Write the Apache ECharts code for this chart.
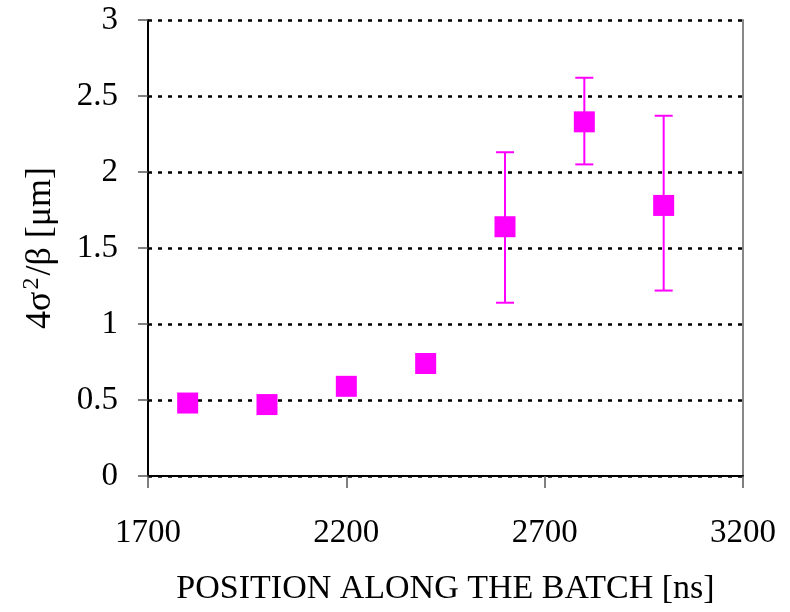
<!DOCTYPE html>
<html>
<head>
<meta charset="utf-8">
<script src="https://cdn.jsdelivr.net/npm/echarts@6/dist/echarts.min.js"></script>
<style>
  html, body { margin: 0; padding: 0; background: #fff; }
  #chart { width: 790px; height: 612px; }
</style>
</head>
<body>
<div id="chart"></div>
<script>
// bunch position along the batch [ns] and measured 4sigma^2/beta [um]
const positions = [1800, 2000, 2200, 2400, 2600, 2800, 3000]
const emittance = [0.48, 0.47, 0.59, 0.74, 1.64, 2.33, 1.78]
// error bars only for the last three bunches
const errLow  = [null, null, null, null, 1.14, 2.05, 1.22]
const errHigh = [null, null, null, null, 2.13, 2.62, 2.37]

const xMin = 1700, xMax = 3200, xStep = 500
const yMin = 0, yMax = 3, yStep = 0.5

const serif = '"Liberation Serif", "Times New Roman", serif'
const pink = '#ff00ff'

const chartDom = document.getElementById('chart')
const myChart = echarts.init(chartDom)

const points = positions.map((x, i) => [x, emittance[i]])
const bars = positions
  .map((x, i) => [x, errLow[i], errHigh[i]])
  .filter(d => d[1] != null)

const option = {
  animation: false,
  grid: { left: 148, right: 47, top: 20, bottom: 136 },
  xAxis: {
    type: 'value',
    min: xMin, max: xMax, interval: xStep,
    name: 'POSITION ALONG THE BATCH [ns]',
    nameLocation: 'middle',
    nameGap: 96,
    nameTextStyle: { fontFamily: serif, fontSize: 34, color: '#000' },
    axisLine: { show: true, onZero: false, lineStyle: { color: '#000', width: 2 } },
    axisTick: { show: true, length: 12, lineStyle: { color: '#555', width: 1.5 } },
    axisLabel: { fontFamily: serif, fontSize: 33, color: '#000', margin: 41, formatter: v => String(v) },
    splitLine: { show: false }
  },
  yAxis: [{
    type: 'value',
    min: yMin, max: yMax, interval: yStep,
    name: '4σ{sup|2}/β [μm]',
    nameLocation: 'middle',
    nameGap: 86,
    nameRotate: 90,
    nameTextStyle: {
      fontFamily: serif, fontSize: 36, color: '#000',
      rich: {
        sup: { fontFamily: serif, fontSize: 24, color: '#000', padding: [0, 2, 18, 2] }
      }
    },
    axisLine: { show: true, lineStyle: { color: '#000', width: 2 } },
    axisTick: { show: true, length: 10, lineStyle: { color: '#555', width: 1.5 } },
    axisLabel: { fontFamily: serif, fontSize: 33, color: '#000', margin: 30 },
    splitLine: { show: true, lineStyle: { color: '#000', width: 2.5, type: [4, 6] } }
  }, {
    type: 'value',
    position: 'right',
    min: yMin, max: yMax, interval: yStep,
    axisLine: { show: true, lineStyle: { color: '#888', width: 2 } },
    axisTick: { show: false },
    axisLabel: { show: false },
    splitLine: { show: false }
  }],
  series: [{
    type: 'custom',
    z: 2,
    data: bars,
    renderItem: (params, api) => {
      const top = api.coord([api.value(0), api.value(2)])
      const bot = api.coord([api.value(0), api.value(1)])
      const half = 9
      const style = { stroke: pink, lineWidth: 2 }
      return {
        type: 'group',
        children: [
          { type: 'line', shape: { x1: top[0], y1: top[1], x2: bot[0], y2: bot[1] }, style },
          { type: 'line', shape: { x1: top[0] - half, y1: top[1], x2: top[0] + half, y2: top[1] }, style },
          { type: 'line', shape: { x1: bot[0] - half, y1: bot[1], x2: bot[0] + half, y2: bot[1] }, style }
        ]
      }
    }
  }, {
    type: 'scatter',
    z: 3,
    data: points,
    symbol: 'rect',
    symbolSize: 21,
    itemStyle: { color: pink, opacity: 1 }
  }]
}

myChart.setOption(option)
</script>
</body>
</html>
